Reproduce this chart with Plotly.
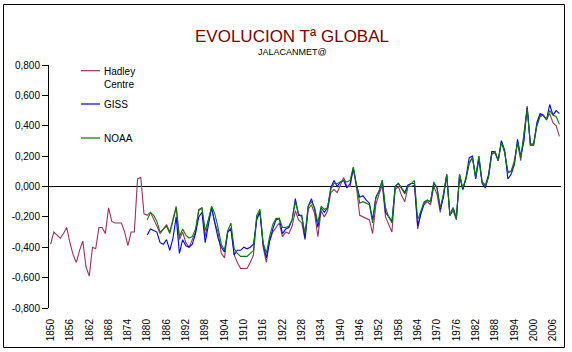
import plotly.graph_objects as go

years_hadley = list(range(1850, 2009))
years_noaa_giss = list(range(1880, 2009))

hadley = [
    -0.38, -0.30, -0.32, -0.34, -0.31, -0.27, -0.37, -0.45, -0.50, -0.42,
    -0.36, -0.53, -0.59, -0.40, -0.41, -0.27, -0.27, -0.31, -0.14, -0.23,
    -0.24, -0.24, -0.24, -0.30, -0.39, -0.30, -0.30, 0.05, 0.06, -0.18,
    -0.19, -0.17, -0.21, -0.26, -0.31, -0.28, -0.25, -0.30, -0.22, -0.13,
    -0.35, -0.30, -0.37, -0.40, -0.35, -0.30, -0.15, -0.14, -0.33, -0.22,
    -0.14, -0.24, -0.30, -0.44, -0.47, -0.30, -0.27, -0.45, -0.50, -0.54,
    -0.54, -0.54, -0.50, -0.45, -0.21, -0.16, -0.40, -0.50, -0.36, -0.30,
    -0.27, -0.24, -0.33, -0.30, -0.31, -0.26, -0.16, -0.22, -0.24, -0.35,
    -0.15, -0.12, -0.18, -0.33, -0.16, -0.20, -0.16, -0.04, -0.02, -0.04,
    0.01, 0.06, 0.00, 0.00, 0.12, -0.01, -0.19, -0.20, -0.21, -0.22,
    -0.31, -0.12, -0.05, 0.01, -0.20, -0.25, -0.30, -0.02, 0.00, -0.06,
    -0.10, 0.00, 0.00, 0.01, -0.28, -0.17, -0.12, -0.10, -0.12, 0.00,
    -0.05, -0.17, -0.05, 0.07, -0.19, -0.16, -0.22, 0.08, -0.02, 0.05,
    0.15, 0.19, 0.06, 0.20, 0.03, 0.01, 0.08, 0.22, 0.22, 0.17,
    0.30, 0.22, 0.10, 0.10, 0.17, 0.29, 0.17, 0.35, 0.53, 0.27,
    0.27, 0.40, 0.47, 0.47, 0.44, 0.48, 0.42, 0.40, 0.33,
]

giss = [
    -0.32, -0.28, -0.29, -0.30, -0.37, -0.38, -0.35, -0.42, -0.34, -0.20,
    -0.44, -0.35, -0.39, -0.40, -0.38, -0.31, -0.20, -0.17, -0.37, -0.26,
    -0.14, -0.24, -0.34, -0.40, -0.43, -0.30, -0.28, -0.45, -0.42, -0.42,
    -0.40, -0.41, -0.40, -0.38, -0.22, -0.17, -0.38, -0.47, -0.36, -0.28,
    -0.22, -0.21, -0.31, -0.28, -0.27, -0.22, -0.08, -0.19, -0.19, -0.34,
    -0.13, -0.08, -0.15, -0.27, -0.14, -0.17, -0.14, -0.01, 0.04, 0.00,
    0.03, 0.04, -0.01, 0.02, 0.12, 0.01, -0.07, -0.06, -0.09, -0.11,
    -0.22, -0.07, -0.03, 0.04, -0.17, -0.20, -0.23, 0.00, 0.02, -0.01,
    -0.04, 0.01, 0.02, 0.02, -0.26, -0.18, -0.11, -0.09, -0.10, 0.02,
    -0.01, -0.15, -0.07, 0.08, -0.19, -0.14, -0.21, 0.07, -0.02, 0.06,
    0.19, 0.20, 0.05, 0.18, 0.02, -0.01, 0.07, 0.23, 0.23, 0.17,
    0.30, 0.24, 0.05, 0.08, 0.14, 0.31, 0.20, 0.30, 0.52, 0.28,
    0.28, 0.42, 0.48, 0.47, 0.44, 0.54, 0.47, 0.50, 0.48,
]

noaa = [
    -0.22, -0.17, -0.19, -0.23, -0.30, -0.28, -0.26, -0.31, -0.23, -0.14,
    -0.33, -0.28, -0.32, -0.34, -0.33, -0.28, -0.16, -0.14, -0.29, -0.22,
    -0.13, -0.18, -0.27, -0.38, -0.42, -0.29, -0.24, -0.41, -0.44, -0.46,
    -0.46, -0.46, -0.44, -0.42, -0.19, -0.15, -0.37, -0.44, -0.33, -0.25,
    -0.21, -0.21, -0.27, -0.27, -0.26, -0.22, -0.10, -0.18, -0.20, -0.31,
    -0.13, -0.10, -0.14, -0.24, -0.13, -0.15, -0.14, -0.02, 0.02, 0.02,
    0.03, 0.04, 0.03, 0.04, 0.13, 0.02, -0.11, -0.10, -0.11, -0.12,
    -0.24, -0.08, -0.03, 0.04, -0.14, -0.20, -0.24, 0.00, 0.02, -0.02,
    -0.05, 0.00, 0.02, 0.04, -0.22, -0.16, -0.10, -0.09, -0.10, 0.03,
    -0.01, -0.14, -0.05, 0.08, -0.19, -0.14, -0.21, 0.08, -0.01, 0.05,
    0.16, 0.19, 0.06, 0.20, 0.03, 0.00, 0.06, 0.21, 0.23, 0.17,
    0.29, 0.23, 0.09, 0.10, 0.15, 0.29, 0.19, 0.34, 0.51, 0.27,
    0.28, 0.40, 0.46, 0.47, 0.44, 0.50, 0.47, 0.46, 0.41,
]

x_tick_years = list(range(1850, 2009, 6))
x_tick_labels = [str(y) for y in x_tick_years]
y_tick_values = [0.8, 0.6, 0.4, 0.2, 0.0, -0.2, -0.4, -0.6, -0.8]
y_tick_labels = ["0,800", "0,600", "0,400", "0,200", "0,000",
                 "-0,200", "-0,400", "-0,600", "-0,800"]

series_names = ["Hadley<br>Centre", "GISS", "NOAA"]
series_colors = ["#993366", "#0000FF", "#008000"]

FONT = "Liberation Sans, Arial, sans-serif"

fig = go.Figure()
fig.add_trace(go.Scatter(x=years_hadley, y=hadley, mode="lines",
                         line=dict(color=series_colors[0], width=1.1),
                         name="Hadley Centre", showlegend=False))
fig.add_trace(go.Scatter(x=years_noaa_giss, y=giss, mode="lines",
                         line=dict(color=series_colors[1], width=1.1),
                         name="GISS", showlegend=False))
fig.add_trace(go.Scatter(x=years_noaa_giss, y=noaa, mode="lines",
                         line=dict(color=series_colors[2], width=1.1),
                         name="NOAA", showlegend=False))

W, H = 572, 352
ML, MR, MT, MB = 49, 11, 65, 44
PW, PH = W - ML - MR, H - MT - MB

def px(xp):
    return (xp - ML) / PW

def py(yp):
    return (H - MB - yp) / PH

shapes = []
annotations = []

# chart border
shapes.append(dict(type="rect", xref="paper", yref="paper",
                   x0=px(3.5), x1=px(564.5), y0=py(347.5), y1=py(4.5),
                   line=dict(color="black", width=1), layer="below"))

# manual legend
legend_y = [70.7, 104, 138]
for name, color, ly in zip(series_names, series_colors, legend_y):
    shapes.append(dict(type="line", xref="paper", yref="paper",
                       x0=px(81), x1=px(100), y0=py(ly), y1=py(ly),
                       line=dict(color=color, width=1.2)))
    annotations.append(dict(xref="paper", yref="paper", x=px(102), y=py(ly - 7),
                            xanchor="left", yanchor="top", align="left",
                            text=name, showarrow=False,
                            font=dict(family=FONT, size=10, color="black")))

annotations.append(dict(xref="paper", yref="paper", x=px(292), y=py(52),
                        xanchor="center", yanchor="middle", text="JALACANMET@",
                        showarrow=False,
                        font=dict(family=FONT, size=9, color="black")))

fig.update_layout(
    width=W, height=H,
    margin=dict(l=ML, r=MR, t=MT, b=MB, pad=0),
    paper_bgcolor="white", plot_bgcolor="white",
    title=dict(text="EVOLUCION Tª GLOBAL", x=292 / W, xanchor="center",
               y=1 - 36 / H, yanchor="middle",
               font=dict(family=FONT, size=17, color="#800000")),
    shapes=shapes, annotations=annotations,
    showlegend=False,
    xaxis=dict(range=[1849.5, 2008.5], tickmode="array",
               tickvals=x_tick_years, ticktext=x_tick_labels,
               tickangle=-90, showgrid=False, zeroline=False,
               showline=False, ticks="outside", ticklen=6,
               tickcolor="rgba(0,0,0,0)",
               tickfont=dict(family=FONT, size=10, color="black")),
    yaxis=dict(range=[-0.8, 0.8], tickmode="array",
               tickvals=y_tick_values, ticktext=y_tick_labels,
               showgrid=False, zeroline=True, zerolinecolor="black",
               zerolinewidth=1, showline=True, linecolor="black",
               linewidth=1, ticks="outside", ticklen=6, tickcolor="black",
               tickfont=dict(family=FONT, size=10, color="black")),
)

fig.write_html("out.html")
